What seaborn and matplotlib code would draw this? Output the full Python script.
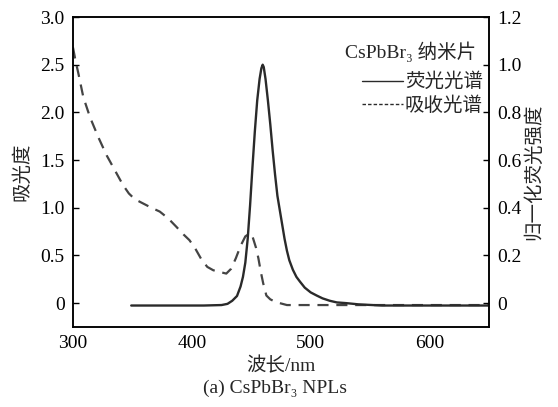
import matplotlib
matplotlib.use("Agg")
import matplotlib.pyplot as plt
import seaborn as sns
import pandas as pd
from matplotlib.lines import Line2D

sns.set_theme(style="white")
plt.rcParams['font.family'] = ['Liberation Serif', 'DejaVu Serif', 'Noto Sans CJK SC']
plt.rcParams['mathtext.fontset'] = 'stix'

# Absorption spectrum (left axis)
abs_wl = [300, 302, 304.5, 308.7, 314.3, 321.3, 328.3, 336.7, 342, 347, 352, 359, 366, 373, 380, 387,
          393, 398, 403, 408, 413, 418, 424, 429, 433, 437, 441, 445, 448.5, 451, 454, 456, 458, 460,
          462.7, 466, 470, 474, 480, 500, 550, 600, 650]
abs_val = [2.68, 2.55, 2.41, 2.16, 1.95, 1.74, 1.55, 1.36, 1.24, 1.15, 1.09, 1.045, 1.0, 0.96, 0.89, 0.80,
           0.72, 0.66, 0.57, 0.46, 0.38, 0.345, 0.325, 0.31, 0.36, 0.47, 0.60, 0.70, 0.73, 0.70, 0.58, 0.47,
           0.33, 0.21, 0.08, 0.04, 0.015, 0.0, -0.02, -0.02, -0.02, -0.02, -0.02]

# Normalized fluorescence spectrum (right axis)
pl_wl = [349, 380, 410, 425, 430, 434, 438, 441, 443, 445, 447, 449, 451, 453, 455, 457, 458.5, 459.6,
         460.5, 462, 464, 466, 468, 470, 472, 474, 476, 478, 480, 482, 485, 488, 491, 495, 500, 505,
         510, 516, 522, 530, 540, 560, 600, 650]
pl_val = [-0.01, -0.01, -0.01, -0.008, -0.003, 0.01, 0.03, 0.07, 0.11, 0.17, 0.27, 0.41, 0.57, 0.72, 0.85,
          0.94, 0.985, 1.0, 0.99, 0.94, 0.85, 0.75, 0.64, 0.54, 0.45, 0.39, 0.33, 0.27, 0.22, 0.18, 0.14,
          0.11, 0.09, 0.065, 0.045, 0.032, 0.02, 0.01, 0.003, 0.0, -0.005, -0.01, -0.01, -0.01]

legend_title = "CsPbBr\u2083 纳米片"
legend_labels = ["荧光光谱", "吸收光谱"]
caption = "(a) CsPbBr\u2083 NPLs"

abs_df = pd.DataFrame({"wl": abs_wl, "v": abs_val})
pl_df = pd.DataFrame({"wl": pl_wl, "v": pl_val})

fig = plt.figure(figsize=(5.58, 4.07), dpi=100)
ax = fig.add_axes([0.1308, 0.1966, 0.7455, 0.7616])
ax2 = ax.twinx()

col = '#2a2a2a'
sns.lineplot(data=abs_df, x="wl", y="v", ax=ax, color='#444444', lw=1.6)
ax.lines[0].set_dashes([5, 3.5])
sns.lineplot(data=pl_df, x="wl", y="v", ax=ax2, color=col, lw=1.7)

ax.set_xlim(300, 650)
ax.set_ylim(-0.25, 3.0)
ax2.set_ylim(-0.1, 1.2)

lticks = [0, 0.5, 1.0, 1.5, 2.0, 2.5, 3.0]
ax.set_yticks(lticks)
ax.set_yticklabels(["0" if t == 0 else f"{t:.1f}" for t in lticks])
rticks = [0, 0.2, 0.4, 0.6, 0.8, 1.0, 1.2]
ax2.set_yticks(rticks)
ax2.set_yticklabels(["0" if t == 0 else f"{t:.1f}" for t in rticks])
ax.set_xticks([300, 400, 500, 600])

fs = 14
for a in (ax, ax2):
    a.tick_params(direction='in', length=4, width=1, labelsize=fs, colors='black', pad=6)
    for s in a.spines.values():
        s.set_color('black')
        s.set_linewidth(1.1)

ax.set_xlabel("波长/nm", fontsize=fs, labelpad=3)
ax.set_ylabel("吸光度", fontsize=fs, labelpad=6)
ax2.set_ylabel("归一化荧光强度", fontsize=fs, labelpad=2)

handles = [Line2D([], [], color=col, lw=1.0),
           Line2D([], [], color=col, lw=1.0, dashes=[2.5, 1.5])]
leg = ax2.legend(handles, legend_labels, loc='upper right', bbox_to_anchor=(0.985, 0.82),
                 frameon=False, fontsize=fs, handlelength=2.1, handletextpad=0.1,
                 labelspacing=0.25, borderaxespad=0.0, borderpad=0.0)
ax2.text(0.97, 0.887, legend_title, transform=ax2.transAxes, ha='right', va='center', fontsize=fs)

fig.text(0.493, 0.045, caption, ha='center', va='center', fontsize=fs)

fig.savefig("out.png", dpi=100)
